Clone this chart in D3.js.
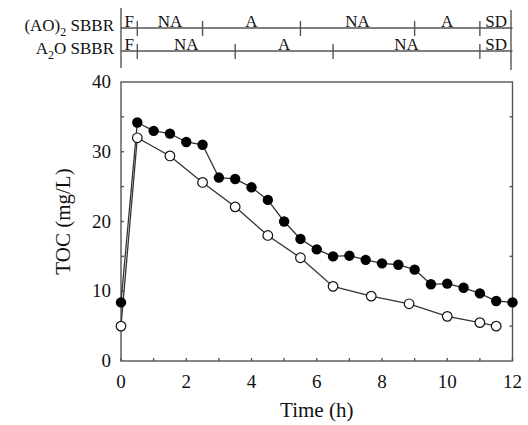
<!DOCTYPE html>
<html>
<head>
<meta charset="utf-8">
<script src="https://cdn.jsdelivr.net/npm/d3@7"></script>
<style>
	body { margin: 0; background: #fff; }
	svg { display: block; font-family: "Liberation Serif", "Times New Roman", serif; }
	.axis-line { stroke: #555; stroke-width: 1.4; fill: none; }
	.tick-lbl { font-size: 19px; fill: #111; }
	.title { font-size: 21px; fill: #111; }
	.phase { font-size: 17px; fill: #111; }
</style>
</head>
<body>
<div id="chart"></div>
<script>

// TOC, filled circles
var filledTime = [0, 0.5, 1, 1.5, 2, 2.5, 3, 3.5, 4, 4.5, 5, 5.5, 6, 6.5, 7, 7.5, 8, 8.5, 9, 9.5, 10, 10.5, 11, 11.5, 12]
var filledToc = [8.4, 34.2, 33.0, 32.6, 31.4, 31.0, 26.3, 26.1, 24.9, 23.1, 20.0, 17.5, 16.0, 15.0, 15.1, 14.5, 14.0, 13.8, 13.1, 11.0, 11.1, 10.5, 9.7, 8.6, 8.4]

// TOC, open circles
var openTime = [0, 0.5, 1.5, 2.5, 3.5, 4.5, 5.5, 6.5, 7.67, 8.83, 10, 11, 11.5]
var openToc = [5.0, 32.0, 29.4, 25.6, 22.1, 18.0, 14.8, 10.7, 9.3, 8.2, 6.4, 5.5, 5.0]

// operating phases
var ao2Bounds = [0, 0.5, 2.5, 5.5, 9, 11, 12]
var ao2Labels = ["F", "NA", "A", "NA", "A", "SD"]
var a2oBounds = [0, 0.5, 3.5, 6.5, 11, 12]
var a2oLabels = ["F", "NA", "A", "NA", "SD"]

var xTicks = [0, 2, 4, 6, 8, 10, 12]
var xMinor = d3.range(0, 13, 1)
var yTicks = [0, 10, 20, 30, 40]
var yMinor = [5, 15, 25, 35]

var width = 528, height = 425
var margin = { top: 82, right: 15.5, bottom: 64, left: 121 }

var svg = d3.select("#chart").append("svg")
	.attr("width", width)
	.attr("height", height)

var x = d3.scaleLinear().domain([0, 12]).range([margin.left, width - margin.right])
var y = d3.scaleLinear().domain([0, 40]).range([height - margin.bottom, margin.top])

// plot frame
svg.append("rect")
	.attr("class", "axis-line")
	.attr("x", x(0))
	.attr("y", y(40))
	.attr("width", x(12) - x(0))
	.attr("height", y(0) - y(40))

// ticks, all pointing inwards
svg.selectAll(".xt").data(xMinor).enter().append("line")
	.attr("class", "axis-line")
	.attr("x1", function(d) { return x(d) })
	.attr("x2", function(d) { return x(d) })
	.attr("y1", y(0))
	.attr("y2", y(0) - 3)

svg.selectAll(".yt").data(d3.range(5, 40, 5)).enter().append("line")
	.attr("class", "axis-line")
	.attr("x1", x(0))
	.attr("x2", x(0) + 3)
	.attr("y1", function(d) { return y(d) })
	.attr("y2", function(d) { return y(d) })

svg.selectAll(".yr").data(yMinor).enter().append("line")
	.attr("class", "axis-line")
	.attr("x1", x(12))
	.attr("x2", x(12) - 3)
	.attr("y1", function(d) { return y(d) })
	.attr("y2", function(d) { return y(d) })

// tick labels
svg.selectAll(".xl").data(xTicks).enter().append("text")
	.attr("class", "tick-lbl")
	.attr("x", function(d) { return x(d) })
	.attr("y", y(0) + 27)
	.attr("text-anchor", "middle")
	.text(function(d) { return d })

svg.selectAll(".yl").data(yTicks).enter().append("text")
	.attr("class", "tick-lbl")
	.attr("x", x(0) - 10)
	.attr("y", function(d) { return y(d) + 6 })
	.attr("text-anchor", "end")
	.text(function(d) { return d })

// axis titles
svg.append("text")
	.attr("class", "title")
	.attr("x", (x(0) + x(12)) / 2)
	.attr("y", y(0) + 56)
	.attr("text-anchor", "middle")
	.text("Time (h)")

svg.append("text")
	.attr("class", "title")
	.attr("transform", "translate(70," + ((y(0) + y(40)) / 2) + ") rotate(-90)")
	.attr("text-anchor", "middle")
	.text("TOC (mg/L)")

// series
var line = d3.line()
	.x(function(d) { return x(d[0]) })
	.y(function(d) { return y(d[1]) })

var filled = d3.zip(filledTime, filledToc)
var open = d3.zip(openTime, openToc)

svg.append("path")
	.datum(open)
	.attr("d", line)
	.attr("fill", "none")
	.attr("stroke", "#333")
	.attr("stroke-width", 1.3)

svg.append("path")
	.datum(filled)
	.attr("d", line)
	.attr("fill", "none")
	.attr("stroke", "#333")
	.attr("stroke-width", 1.3)

svg.selectAll(".op").data(open).enter().append("circle")
	.attr("cx", function(d) { return x(d[0]) })
	.attr("cy", function(d) { return y(d[1]) })
	.attr("r", 4.8)
	.attr("fill", "#fff")
	.attr("stroke", "#111")
	.attr("stroke-width", 1.2)

svg.selectAll(".fp").data(filled).enter().append("circle")
	.attr("cx", function(d) { return x(d[0]) })
	.attr("cy", function(d) { return y(d[1]) })
	.attr("r", 5.2)
	.attr("fill", "#000")

// phase timelines above the plot
function timeline(bounds, labels, ly, name, sub) {

	svg.append("line")
		.attr("class", "axis-line")
		.attr("x1", x(0)).attr("x2", x(12))
		.attr("y1", ly).attr("y2", ly)

	var inner = bounds.slice(1, bounds.length - 1)

	svg.selectAll(null).data(inner).enter().append("line")
		.attr("class", "axis-line")
		.attr("x1", function(d) { return x(d) })
		.attr("x2", function(d) { return x(d) })
		.attr("y1", ly - 7)
		.attr("y2", ly + 8)

	svg.selectAll(null).data(labels).enter().append("text")
		.attr("class", "phase")
		.attr("x", function(d, i) { return (x(bounds[i]) + x(bounds[i + 1])) / 2 })
		.attr("y", ly - 1)
		.attr("text-anchor", "middle")
		.text(function(d) { return d })

	var t = svg.append("text")
		.attr("class", "phase")
		.attr("x", x(0) - 7)
		.attr("y", ly + 3)
		.attr("text-anchor", "end")

	t.append("tspan").text(name[0])
	t.append("tspan").attr("font-size", "12px").attr("dy", 5).text(sub)
	t.append("tspan").attr("dy", -5).text(name[1])
}

timeline(ao2Bounds, ao2Labels, 28, ["(AO)", " SBBR"], "2")
timeline(a2oBounds, a2oLabels, 51, ["A", "O SBBR"], "2")

svg.append("line")
	.attr("class", "axis-line")
	.attr("x1", x(0)).attr("x2", x(0))
	.attr("y1", 8).attr("y2", 68)

svg.append("line")
	.attr("class", "axis-line")
	.attr("x1", x(12) - 1.5).attr("x2", x(12) - 1.5)
	.attr("y1", 10).attr("y2", 70)

</script>
</body>
</html>
